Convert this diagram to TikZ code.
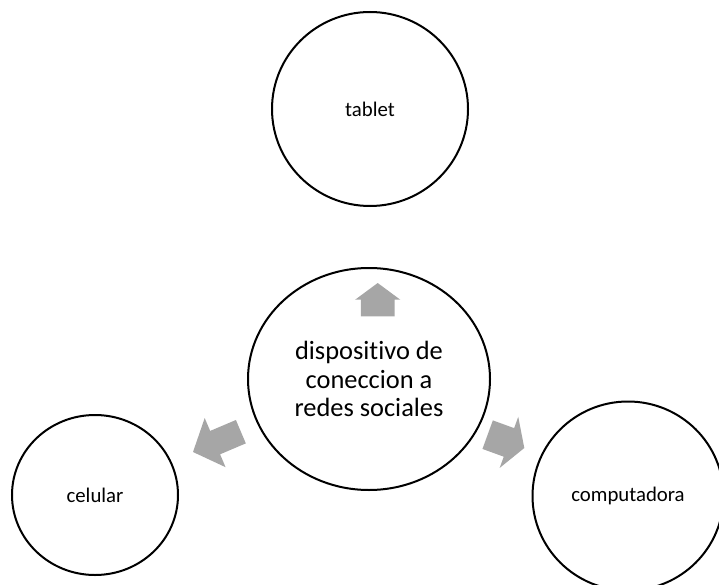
\documentclass[tikz,border=0pt]{standalone}
\usepackage{fontspec}
\setmainfont{Carlito}[Ligatures=NoCommon]
\usetikzlibrary{shapes.geometric,shapes.arrows}
\definecolor{arrowgray}{RGB}{166,166,166}
\tikzset{
  bubble/.style={ellipse, draw=black, line width=2pt, inner sep=0pt,
    font=\fontsize{20.8}{25}\selectfont},
  spoke/.style={single arrow, fill=arrowgray, draw=none, inner xsep=0pt,
    outer sep=0pt, anchor=tip}
}
\begin{document}
\begin{tikzpicture}[x=1pt,y=-1pt]
  \clip (0,0) rectangle (719,585);
  % hub and the three devices
  \node[bubble, minimum width=242, minimum height=222, align=center,
    font=\fontsize{26.4}{28.7}\selectfont] (hub) at (369,379)
    {dispositivo de\\coneccion a\\redes sociales};
  \node[bubble, minimum width=196, minimum height=194] (tablet) at (370,109) {tablet};
  \node[bubble, minimum width=166, minimum height=160] (celular) at (95,495) {celular};
  \node[bubble, minimum width=191, minimum height=189] (computadora) at (628,496) {computadora};
  % arrows out of the hub
  \node[spoke, rotate=90, minimum height=33.3, inner ysep=16.6,
    single arrow head extend=5.8, single arrow tip angle=107] (uparrow) at (377.7,283) {};
  \node[spoke, rotate=203, minimum height=52, inner ysep=12.5,
    single arrow head extend=14, single arrow tip angle=96] (leftarrow) at (193,452) {};
  \node[spoke, rotate=-20, minimum height=39, inner ysep=15,
    single arrow head extend=12, single arrow tip angle=118] (rightarrow) at (524.3,448) {};
\end{tikzpicture}
\end{document}
